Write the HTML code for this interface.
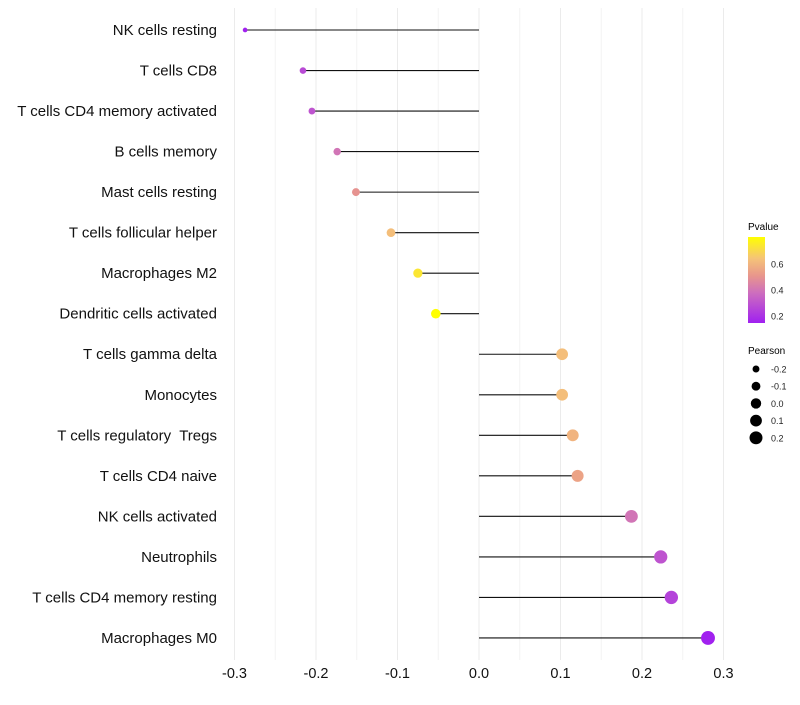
<!DOCTYPE html>
<html><head><meta charset="utf-8"><style>
body{margin:0;background:#fff;}
svg{font-family:"Liberation Sans",sans-serif;}
text{white-space:pre;}
</style></head><body>
<svg id="chart" width="800" height="700">
<defs><linearGradient id="pg" x1="0" y1="1" x2="0" y2="0">
<stop offset="0" stop-color="#a020f0"/><stop offset="0.35" stop-color="#cd6ebe"/><stop offset="0.55" stop-color="#e8968c"/><stop offset="0.75" stop-color="#f5c378"/><stop offset="1" stop-color="#ffff00"/>
</linearGradient></defs>
<g id="grid"></g>
<g id="marks"></g>
<g id="labels"></g>
<g id="legend">
<text x="748" y="230" font-size="10">Pvalue</text>
<rect x="748" y="237" width="17" height="86" fill="url(#pg)"/>
<text x="748" y="354" font-size="10">Pearson</text>
</g>
</svg>
<script>
const categories=["NK cells resting","T cells CD8","T cells CD4 memory activated","B cells memory","Mast cells resting","T cells follicular helper","Macrophages M2","Dendritic cells activated","T cells gamma delta","Monocytes","T cells regulatory  Tregs","T cells CD4 naive","NK cells activated","Neutrophils","T cells CD4 memory resting","Macrophages M0"];
const pearson=[-0.287,-0.216,-0.205,-0.174,-0.151,-0.108,-0.075,-0.053,0.102,0.102,0.115,0.121,0.187,0.223,0.236,0.281];
const pvalue=[0.15,0.27,0.3,0.4,0.5,0.63,0.74,0.81,0.63,0.63,0.6,0.55,0.4,0.3,0.25,0.15];
const xTicks=[-0.3,-0.2,-0.1,0,0.1,0.2,0.3];
const xTickLabels=["-0.3","-0.2","-0.1","0.0","0.1","0.2","0.3"];
const pTicks=[0.6,0.4,0.2];
const sizeTicks=[-0.2,-0.1,0,0.1,0.2];
const sizeTickLabels=["-0.2","-0.1","0.0","0.1","0.2"];
const NS="http://www.w3.org/2000/svg";
const x=v=>479+v*815;
const y=i=>30+i*40.53;
const pMin=0.146,pMax=0.81;
const stops=[[0,[160,32,240]],[0.35,[205,110,190]],[0.55,[232,150,140]],[0.75,[245,195,120]],[1,[255,255,0]]];
function col(p){let t=Math.max(0,Math.min(1,(p-pMin)/(pMax-pMin)));for(let k=1;k<stops.length;k++){if(t<=stops[k][0]){const a=stops[k-1],b=stops[k];const f=(t-a[0])/(b[0]-a[0]);const c=a[1].map((v,j)=>Math.round(v+(b[1][j]-v)*f));return `rgb(${c})`;}}return "rgb(255,255,0)";}
const rad=v=>Math.sqrt(Math.max(1,27+75*v));
function mk(tag,attrs,parent,txt){const e=document.createElementNS(NS,tag);for(const k in attrs)e.setAttribute(k,attrs[k]);if(txt!==undefined)e.textContent=txt;document.getElementById(parent).appendChild(e);return e;}
for(let v=-0.3;v<=0.3001;v+=0.05){const major=Math.abs(Math.round(v*20))%2===0;const e=mk("line",{x1:x(v),x2:x(v),y1:8,y2:660,stroke:major?"#ebebeb":"#f3f3f3","stroke-width":1},"grid");

}
xTicks.forEach((v,i)=>{const e=mk("text",{x:x(v),y:678,"font-size":14.5,"text-anchor":"middle",fill:"#111"},"labels",xTickLabels[i]);

});
categories.forEach((c,i)=>{
const t=mk("text",{x:217,y:y(i)+5,"font-size":15,"text-anchor":"end",fill:"#111"},"labels",c);


const l=mk("line",{x1:x(0),x2:x(pearson[i]),y1:y(i),y2:y(i),stroke:"#111","stroke-width":1.1},"marks");


const p=mk("circle",{cx:x(pearson[i]),cy:y(i),r:rad(pearson[i]),fill:col(pvalue[i])},"marks");


});
pTicks.forEach(v=>{const yy=237+(pMax-v)/(pMax-pMin)*86;
const e=mk("text",{x:771,y:yy+3.5,"font-size":9,fill:"#222"},"legend",v.toFixed(1));

});
sizeTicks.forEach((v,i)=>{const yy=369+i*17.2;
const c=mk("circle",{cx:756,cy:yy,r:rad(v),fill:"#000"},"legend");


const t=mk("text",{x:771,y:yy+3.5,"font-size":9,fill:"#222"},"legend",sizeTickLabels[i]);

});
</script>
</body></html>
